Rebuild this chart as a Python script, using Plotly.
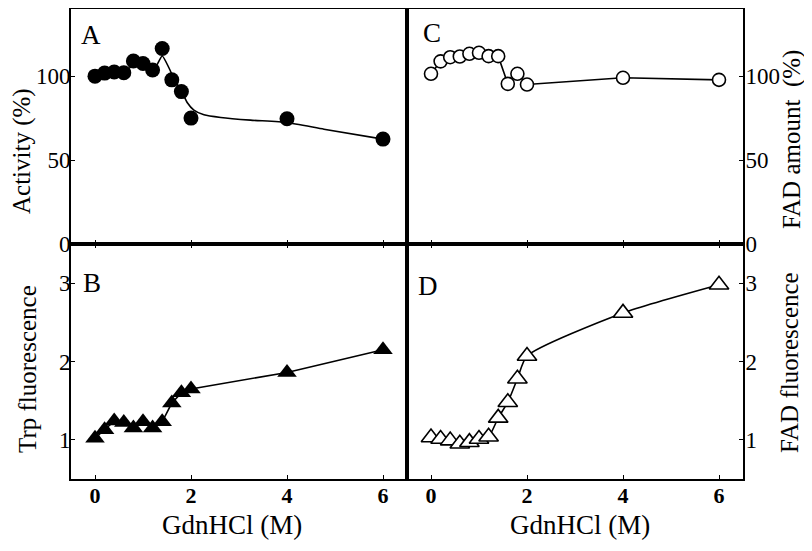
import plotly.graph_objects as go

# ---- data ----
gdn = [0, 0.2, 0.4, 0.6, 0.8, 1.0, 1.2, 1.4, 1.6, 1.8, 2.0, 4.0, 6.0]

activity = [100, 101.8, 102.5, 102, 109, 107.5, 103.7, 116.5, 97.8, 90.8, 75.0, 74.6, 62.5]
activity_fit_x = [0, 0.2, 0.4, 0.6, 0.8, 1.0, 1.23, 1.40, 1.54, 1.65, 1.82, 1.92, 2.06, 2.27, 2.62, 3.24, 4.0, 4.77, 6.0]
activity_fit_y = [100, 101.5, 102, 103, 106, 106, 104.2, 112, 105, 98, 90.2, 84.3, 79.8, 77, 75.4, 73.8, 72.4, 68.4, 62.5]

trp = [1.02, 1.13, 1.24, 1.22, 1.15, 1.23, 1.15, 1.23, 1.47, 1.60, 1.65, 1.86, 2.15]

fad_amount = [101.4, 108.8, 111.3, 111.7, 113.3, 113.9, 111.9, 111.9, 95.4, 101.4, 95.0, 99.0, 97.8]

fad_fluo = [1.03, 1.01, 0.99, 0.95, 0.97, 1.01, 1.04, 1.28, 1.48, 1.78, 2.07, 2.62, 2.98]

x_ticks = [0, 2, 4, 6]
act_ticks = [0, 50, 100]
fluo_ticks = [1, 2, 3]

# ---- layout geometry (page body adds an 8 px margin on every side) ----
OFF = 8
W, H = 812 - 2 * OFF, 551 - 2 * OFF
def px(x):
    return (x - OFF) / W
def py(y):
    return 1 - (y - OFF) / H

xL = [px(71), px(407)]
xR = [px(407), px(743)]
yTop = [py(244), py(9)]
yBot = [py(479), py(244)]

FONT = "Liberation Serif"
BLACK = "black"

fig = go.Figure()

# Panel A
fig.add_trace(go.Scatter(x=activity_fit_x, y=activity_fit_y, mode="lines",
                         line=dict(color=BLACK, width=1.6, shape="spline", smoothing=0.5),
                         xaxis="x", yaxis="y", showlegend=False, hoverinfo="skip"))
fig.add_trace(go.Scatter(x=gdn, y=activity, mode="markers",
                         marker=dict(symbol="circle", size=15, color=BLACK),
                         xaxis="x", yaxis="y", showlegend=False))
# Panel B
fig.add_trace(go.Scatter(x=gdn, y=trp, mode="lines+markers",
                         line=dict(color=BLACK, width=1.6),
                         marker=dict(symbol="triangle-up", size=17, color=BLACK),
                         xaxis="x2", yaxis="y2", showlegend=False))
# Panel C
fig.add_trace(go.Scatter(x=gdn, y=fad_amount, mode="lines+markers",
                         line=dict(color=BLACK, width=1.6),
                         marker=dict(symbol="circle", size=13, color="white",
                                     line=dict(color=BLACK, width=1.6)),
                         xaxis="x3", yaxis="y3", showlegend=False))
# Panel D
fig.add_trace(go.Scatter(x=gdn, y=fad_fluo, mode="lines+markers",
                         line=dict(color=BLACK, width=1.6, shape="spline", smoothing=0.6),
                         marker=dict(symbol="triangle-up", size=17, color="white",
                                     line=dict(color=BLACK, width=1.6)),
                         xaxis="x4", yaxis="y4", showlegend=False))

tickfont = dict(family=FONT, size=23, color=BLACK)
xtickfont = dict(family=FONT, size=22, color=BLACK, weight="bold")

common_x = dict(range=[-0.5, 6.5], tickvals=x_ticks, ticks="inside", ticklen=4,
                tickwidth=1.3, tickcolor=BLACK, showline=True, linecolor=BLACK,
                linewidth=1.8, showgrid=False, zeroline=False, automargin=False)
common_y = dict(ticks="inside", ticklen=4, tickwidth=1.3, tickcolor=BLACK,
                showline=True, linecolor=BLACK, linewidth=1.8, showgrid=False,
                zeroline=False, automargin=False, tickfont=tickfont)

fig.update_layout(
    width=W, height=H,
    margin=dict(l=0, r=0, t=0, b=0),
    paper_bgcolor="white", plot_bgcolor="white",
    font=dict(family=FONT, color=BLACK),
    xaxis=dict(domain=xL, anchor="y", showticklabels=False, mirror=True, **common_x),
    yaxis=dict(domain=yTop, anchor="x", range=[0, 140], tickvals=act_ticks,
               mirror=True, ticklabelstandoff=-6, **common_y),
    xaxis2=dict(domain=xL, anchor="y2", showticklabels=True, tickfont=xtickfont,
                mirror="ticks", ticklabelstandoff=-4, **common_x),
    yaxis2=dict(domain=yBot, anchor="x2", range=[0.5, 3.5], tickvals=fluo_ticks,
                mirror=True, ticklabelstandoff=-6, **common_y),
    xaxis3=dict(domain=xR, anchor="y3", showticklabels=False, mirror=True, **common_x),
    yaxis3=dict(domain=yTop, anchor="x3", range=[0, 140], tickvals=act_ticks,
                side="right", mirror=True, ticklabelstandoff=-4, **common_y),
    xaxis4=dict(domain=xR, anchor="y4", showticklabels=True, tickfont=xtickfont,
                mirror="ticks", ticklabelstandoff=-4, **common_x),
    yaxis4=dict(domain=yBot, anchor="x4", range=[0.5, 3.5], tickvals=fluo_ticks,
                side="right", mirror=True, ticklabelstandoff=-4, **common_y),
)

def ann(text, x, y, size, angle=0):
    fig.add_annotation(text=text, x=px(x), y=py(y), xref="paper", yref="paper",
                       showarrow=False, textangle=angle, xanchor="center", yanchor="middle",
                       font=dict(family=FONT, size=size, color=BLACK))

ann("Activity (%)", 22, 151, 25, -90)
ann("Trp fluorescence", 27, 369, 25, -90)
ann("FAD amount  (%)", 792, 140, 25, -90)
ann("FAD fluorescence", 789, 363, 25, -90)
ann("GdnHCl (M)", 232, 525, 27)
ann("GdnHCl (M)", 580, 525, 27)
ann("A", 91, 35, 27)
ann("B", 92, 283, 27)
ann("C", 432, 33, 27)
ann("D", 428, 286, 27)

fig.write_html("out.html")
